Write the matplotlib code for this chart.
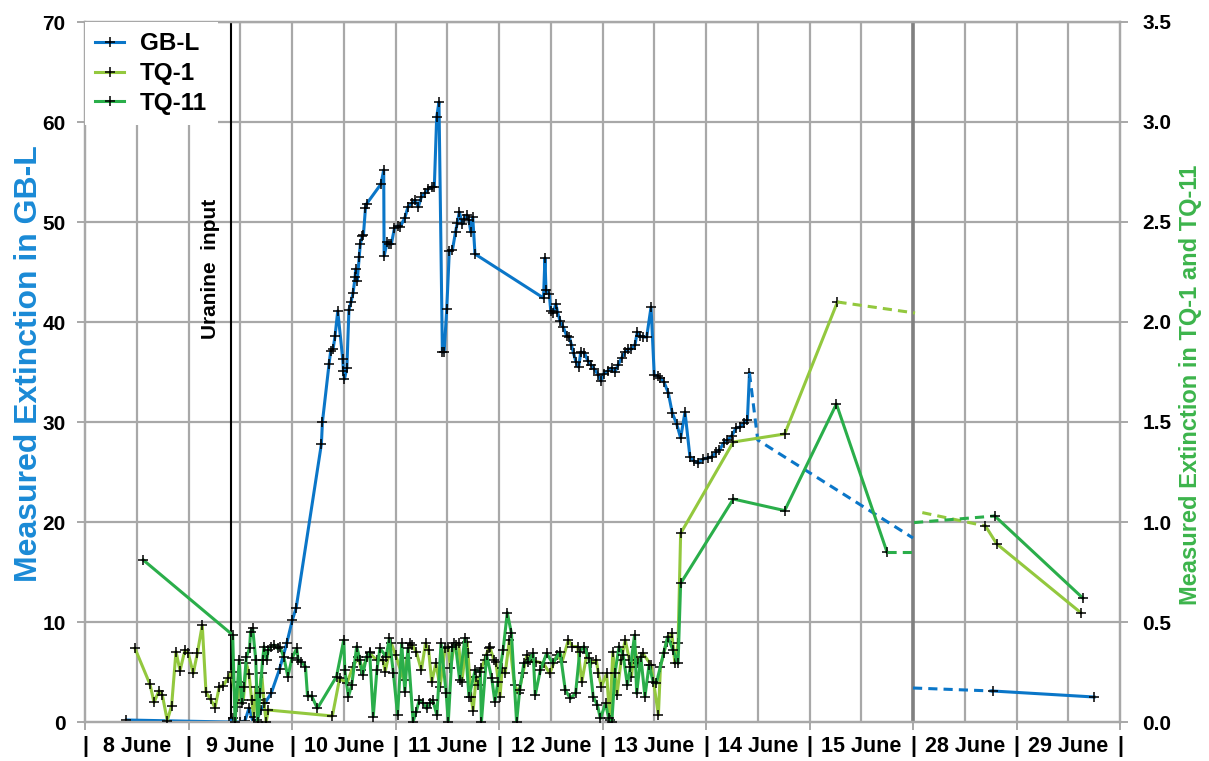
import matplotlib
matplotlib.use("Agg")
import matplotlib.pyplot as plt
from matplotlib.ticker import MultipleLocator, FormatStrFormatter
from matplotlib.transforms import offset_copy

plt.rcParams['font.family'] = ['Liberation Sans', 'DejaVu Sans']
plt.rcParams['font.weight'] = 'bold'

# Time axis: days after 8 June 00:00; 28 and 29 June follow a break at day 8
day_labels = ["8 June", "9 June", "10 June", "11 June", "12 June", "13 June",
              "14 June", "15 June", "28 June", "29 June"]
uranine_day = 1.408

# GB-L extinction (left axis)
gbl_x = [0.40, 1.39, 1.433, 1.46, 1.50, 1.545, 1.585, 1.625, 1.66, 1.70, 1.74, 1.80,
         1.88, 1.95, 2.003, 2.04, 2.284, 2.294, 2.358, 2.374, 2.397, 2.416, 2.442,
         2.49, 2.497, 2.507, 2.53, 2.55, 2.57, 2.59, 2.61, 2.615, 2.63, 2.65, 2.66,
         2.68, 2.69, 2.71, 2.72, 2.86, 2.886, 2.89, 2.92, 2.94, 2.96, 2.99, 3.02,
         3.043, 3.09, 3.12, 3.16, 3.19, 3.22, 3.25, 3.285, 3.317, 3.35, 3.375, 3.398,
         3.42, 3.453, 3.47, 3.495, 3.52, 3.55, 3.58, 3.597, 3.617, 3.645, 3.665, 3.688,
         3.71, 3.727, 3.746, 3.768, 4.43, 4.444, 4.454, 4.486, 4.50, 4.52, 4.55, 4.565,
         4.59, 4.62, 4.655, 4.68, 4.70, 4.72, 4.744, 4.77, 4.79, 4.825, 4.86, 4.89,
         4.92, 4.96, 4.985, 5.01, 5.05, 5.09, 5.12, 5.15, 5.185, 5.217, 5.25, 5.28,
         5.314, 5.336, 5.36, 5.394, 5.427, 5.469, 5.50, 5.533, 5.56, 5.594, 5.636,
         5.674, 5.717, 5.755, 5.797, 5.845, 5.884, 5.926, 5.974, 6.016, 6.055, 6.097,
         6.13, 6.17, 6.206, 6.248, 6.29, 6.33, 6.367, 6.40, 6.42]
gbl_y = [0.2, 0.0, 0.4, 0.0, 0.0, 0.1, 1.4, 0.0, 0.2, 1.2, 1.9, 2.9,
         5.3, 7.9, 10.2, 11.4, 27.8, 30.0, 35.8, 37.1, 37.3, 38.6, 41.1,
         36.3, 35.1, 34.3, 35.4, 41.2, 42.0, 42.9, 44.5, 45.3, 44.1, 46.5, 47.8,
         48.6, 48.7, 51.4, 51.8, 53.8, 55.2, 46.6, 48.0, 47.8, 47.8, 49.4, 49.6,
         49.5, 50.4, 51.5, 51.9, 52.2, 51.5, 52.5, 52.9, 53.3, 53.5, 53.5, 60.5,
         62.0, 37.0, 37.0, 41.3, 47.1, 47.2, 49.0, 49.9, 51.0, 49.8, 50.3, 50.7,
         50.2, 49.0, 50.5, 46.8, 42.4, 46.4, 43.2, 42.8, 41.1, 40.9, 41.8, 41.0,
         40.1, 39.5, 38.6, 38.5, 37.7, 36.9, 36.0, 35.5, 37.0, 36.9, 36.1, 35.7,
         35.3, 34.7, 34.1, 34.8, 35.1, 35.4, 35.0, 35.7, 36.4, 37.0, 37.3, 37.3,
         37.7, 39.0, 38.6, 38.5, 38.5, 41.5, 34.7, 34.6, 34.4, 34.0, 32.9,
         30.9, 29.8, 28.4, 31.0, 26.5, 26.1, 25.9, 26.3, 26.4, 26.5, 27.0,
         27.2, 27.9, 28.2, 28.6, 29.4, 29.5, 29.9, 30.2, 34.9]
gbl_gap_x = [6.42, 6.50, 8.00]
gbl_gap_y = [34.9, 28.2, 18.4]
gbl_resume_x = [8.00, 8.77]
gbl_resume_y = [3.4, 3.1]
gbl_late_x = [8.77, 9.75]
gbl_late_y = [3.1, 2.5]

# TQ-1 extinction (right axis)
tq1_x = [0.483, 0.628, 0.667, 0.715, 0.747, 0.795, 0.837, 0.879, 0.918, 0.966, 0.998,
         1.046, 1.085, 1.133, 1.169, 1.214, 1.256, 1.298, 1.336, 1.379, 1.417, 1.465,
         1.50, 1.53, 1.56, 1.585, 1.61, 1.63, 1.65, 1.675, 1.707, 1.73, 1.75, 1.77,
         2.39, 2.46, 2.53, 2.59, 2.64, 2.67, 2.75, 2.82,
         2.88, 2.90, 2.96, 3.00, 3.08, 3.11, 3.14, 3.16, 3.20, 3.25, 3.29, 3.32, 3.35,
         3.39, 3.43, 3.48, 3.51, 3.53, 3.57, 3.61, 3.64, 3.69, 3.70, 3.73, 3.75, 3.78,
         3.80, 3.83, 3.86, 3.90, 3.91, 3.95, 3.97, 4.01, 4.03, 4.06, 4.10, 4.15, 4.19,
         4.23, 4.27, 4.30, 4.36, 4.43, 4.49, 4.56, 4.61, 4.67, 4.71, 4.76, 4.80, 4.85,
         4.89, 4.94, 4.96, 4.99, 5.04, 5.07, 5.10, 5.14, 5.18, 5.22, 5.26, 5.28, 5.31,
         5.34, 5.39, 5.47, 5.54, 5.56, 5.62, 5.67, 5.70, 5.73, 5.755,
         6.264, 6.76, 7.27]
tq1_y = [0.368, 0.188, 0.098, 0.157, 0.135, 0.007, 0.082, 0.352, 0.257, 0.36, 0.343,
         0.243, 0.343, 0.485, 0.148, 0.113, 0.072, 0.177, 0.182, 0.218, 0.252, 0.077,
         0.2, 0.11, 0.293, 0.24, 0.11, 0.027, 0.177, 0.11, 0.243, 0.093, 0.0, 0.06,
         0.03, 0.218, 0.193, 0.277, 0.327, 0.26, 0.343, 0.31,
         0.31, 0.252, 0.393, 0.335, 0.21, 0.318, 0.393, 0.385, 0.352, 0.26, 0.393, 0.36, 0.2,
         0.293, 0.177, 0.368, 0.377, 0.268, 0.393, 0.393, 0.2, 0.402, 0.343, 0.127, 0.057, 0.227,
         0.185, 0.268, 0.31, 0.368, 0.377, 0.31, 0.302, 0.127, 0.268, 0.243, 0.41, 0.185, 0.143,
         0.243, 0.335, 0.31, 0.302, 0.293, 0.243, 0.335, 0.302, 0.41, 0.377, 0.377, 0.2, 0.343,
         0.293, 0.31, 0.243, 0.177, 0.243, 0.01, 0.352, 0.135, 0.31, 0.41, 0.31, 0.227, 0.377,
         0.293, 0.343, 0.285, 0.035, 0.277, 0.402, 0.443, 0.293, 0.393, 0.943,
         1.40, 1.44, 2.10]
tq1_gap_x = [7.27, 8.02]
tq1_gap_y = [2.10, 2.045]
tq1_resume_x = [8.09, 8.70]
tq1_resume_y = [1.047, 0.98]
tq1_late_x = [8.70, 8.81, 9.62]
tq1_late_y = [0.98, 0.89, 0.547]

# TQ-11 extinction (right axis)
tq11_x = [0.563, 1.427, 1.45, 1.49, 1.514, 1.536, 1.56, 1.59, 1.60, 1.62, 1.65, 1.668,
          1.69, 1.716, 1.73, 1.755, 1.77, 1.80, 1.83, 1.86, 1.88, 1.92, 1.96, 2.0,
          2.045, 2.06, 2.09, 2.13, 2.15, 2.19, 2.245, 2.43, 2.50, 2.51, 2.545, 2.577,
          2.625, 2.657, 2.683, 2.72, 2.75, 2.785, 2.82, 2.85,
          2.91, 2.94, 2.98, 3.02, 3.06, 3.09, 3.12, 3.17, 3.20, 3.23, 3.27, 3.30, 3.33,
          3.36, 3.40, 3.44, 3.49, 3.51, 3.55, 3.58, 3.62, 3.67, 3.71, 3.77, 3.82, 3.83,
          3.88, 3.93, 3.96, 3.99, 4.04, 4.08, 4.12, 4.17, 4.20, 4.24, 4.28, 4.33, 4.35,
          4.40, 4.46, 4.52, 4.59, 4.64, 4.69, 4.74, 4.78, 4.82, 4.87, 4.91, 4.95, 4.98,
          5.03, 5.06, 5.09, 5.12, 5.16, 5.20, 5.24, 5.27, 5.31, 5.33, 5.37, 5.41, 5.45,
          5.49, 5.52, 5.59, 5.63, 5.68, 5.73, 5.755,
          6.264, 6.76, 7.26, 7.75]
tq11_y = [0.81, 0.435, 0.0, 0.31, 0.093, 0.177, 0.327, 0.368, 0.452, 0.468, 0.31, 0.0,
          0.143, 0.31, 0.377, 0.31, 0.36, 0.377, 0.385, 0.368, 0.377, 0.327, 0.227, 0.318,
          0.368, 0.31, 0.30, 0.277, 0.13, 0.13, 0.068, 0.227, 0.41, 0.26, 0.127, 0.185,
          0.377, 0.31, 0.235, 0.327, 0.35, 0.027, 0.26, 0.368,
          0.327, 0.418, 0.243, 0.035, 0.393, 0.152, 0.368, 0.002, 0.052, 0.11, 0.093, 0.068, 0.093,
          0.11, 0.035, 0.393, 0.143, 0.0, 0.377, 0.385, 0.21, 0.418, 0.127, 0.26, 0.252, 0.0,
          0.335, 0.218, 0.102, 0.2, 0.36, 0.547, 0.443, 0.0, 0.16, 0.293, 0.302, 0.343, 0.135,
          0.26, 0.343, 0.293, 0.352, 0.16, 0.118, 0.143, 0.352, 0.377, 0.318, 0.127, 0.085, 0.018,
          0.093, 0.018, 0.0, 0.243, 0.377, 0.335, 0.185, 0.277, 0.435, 0.143, 0.327, 0.127, 0.285,
          0.2, 0.193, 0.343, 0.427, 0.36, 0.293, 0.693,
          1.115, 1.057, 1.59, 0.848]
tq11_gap_x = [7.75, 8.02]
tq11_gap_y = [0.848, 0.848]
tq11_resume_x = [8.01, 8.79]
tq11_resume_y = [0.997, 1.03]
tq11_late_x = [8.79, 9.64]
tq11_late_y = [1.03, 0.62]

c_gbl = '#0a76c8'
c_tq1 = '#93c83e'
c_tq11 = '#2aae4a'
c_grid = '#a8a8a8'
mk = dict(marker='+', markersize=7.5, markeredgewidth=1.1, markeredgecolor='black')

W, H = 1209, 761
fig = plt.figure(figsize=(W / 100, H / 100), dpi=100)
x0, x1, y0, y1 = 85, 1120, 22, 722
ax = fig.add_axes([x0 / W, 1 - y1 / H, (x1 - x0) / W, (y1 - y0) / H])
ax2 = ax.twinx()

ax.set_xlim(0, 10)
ax.set_ylim(0, 70)
ax2.set_ylim(0, 3.5)

# grid: every 12 hours vertically, every 10 units horizontally
for k in range(1, 20):
    ax.axvline(k * 0.5, color=c_grid, lw=1.6, zorder=0.5)
for v in range(10, 71, 10):
    ax.axhline(v, color=c_grid, lw=1.6, zorder=0.5)
ax.axvline(8, color='#808080', lw=2.6, zorder=0.6)
ax.axvline(uranine_day, color='black', lw=1.5, zorder=0.7)
ax.text(1.217, 45.3, 'Uranine  input', rotation=90, ha='center', va='center',
        fontsize=15, color='black')

lw = 2.2
dash = (0, (3, 2.0))
ax.plot(gbl_x, gbl_y, color=c_gbl, lw=lw, zorder=3, **mk)
ax.plot(gbl_gap_x, gbl_gap_y, color=c_gbl, lw=lw, ls=dash, zorder=3)
ax.plot(gbl_resume_x, gbl_resume_y, color=c_gbl, lw=lw, ls=dash, zorder=3)
ax.plot(gbl_late_x, gbl_late_y, color=c_gbl, lw=lw, zorder=3, **mk)

ax2.plot(tq1_x, tq1_y, color=c_tq1, lw=lw, zorder=3, **mk)
ax2.plot(tq1_gap_x, tq1_gap_y, color=c_tq1, lw=lw, ls=dash, zorder=3)
ax2.plot(tq1_resume_x, tq1_resume_y, color=c_tq1, lw=lw, ls=dash, zorder=3)
ax2.plot(tq1_late_x, tq1_late_y, color=c_tq1, lw=lw, zorder=3, **mk)

ax2.plot(tq11_x, tq11_y, color=c_tq11, lw=lw, zorder=3, **mk)
ax2.plot(tq11_gap_x, tq11_gap_y, color=c_tq11, lw=lw, ls=dash, zorder=3)
ax2.plot(tq11_resume_x, tq11_resume_y, color=c_tq11, lw=lw, ls=dash, zorder=3)
ax2.plot(tq11_late_x, tq11_late_y, color=c_tq11, lw=lw, zorder=3, **mk)

# axes styling
for a in (ax, ax2):
    for s in a.spines.values():
        s.set_color(c_grid)
        s.set_linewidth(1.6)
ax.yaxis.set_major_locator(MultipleLocator(10))
ax2.yaxis.set_major_locator(MultipleLocator(0.5))
ax2.yaxis.set_major_formatter(FormatStrFormatter('%.1f'))
ax.tick_params(axis='y', direction='out', length=6, width=1.4, color=c_grid,
               labelsize=15, pad=8)
ax2.tick_params(axis='y', direction='out', length=6, width=1.4, color=c_grid,
                labelsize=15, pad=10)
ax.set_xticks(range(0, 11))
ax.set_xticklabels([])
ax.tick_params(axis='x', direction='out', length=6, width=1.4, color=c_grid)

# day names centred in each day, bars on the day boundaries
lab_tr = offset_copy(ax.get_xaxis_transform(), fig=fig, x=0, y=-14, units='dots')
for i, name in enumerate(day_labels):
    ax.text(i + 0.5, 0, name, transform=lab_tr, ha='center', va='top', fontsize=15.5)
for i in range(len(day_labels) + 1):
    ax.text(i, 0, '|', transform=lab_tr, ha='center', va='top', fontsize=15.5)

fig.text(29 / W, 1 - 364 / H, 'Measured Extinction in GB-L', rotation=90,
         ha='center', va='center', fontsize=23, color='#1a8ad6')
fig.text(1191 / W, 1 - 385 / H, 'Measured Extinction in TQ-1 and TQ-11', rotation=90,
         ha='center', va='center', fontsize=17, color='#3cb44b')

handles = [plt.Line2D([], [], color=c, lw=lw, **mk) for c in (c_gbl, c_tq1, c_tq11)]
leg = ax2.legend(handles, ['GB-L', 'TQ-1', 'TQ-11'], loc='upper left',
                 bbox_to_anchor=(0, 1), borderaxespad=0, frameon=True, fancybox=False,
                 framealpha=1, facecolor='white', edgecolor='none',
                 handlelength=1.2, handletextpad=0.65, labelspacing=0.28, borderpad=0.42,
                 prop={'weight': 'bold', 'size': 17.5})
leg.set_zorder(10)

fig.savefig('out.png', dpi=100)
